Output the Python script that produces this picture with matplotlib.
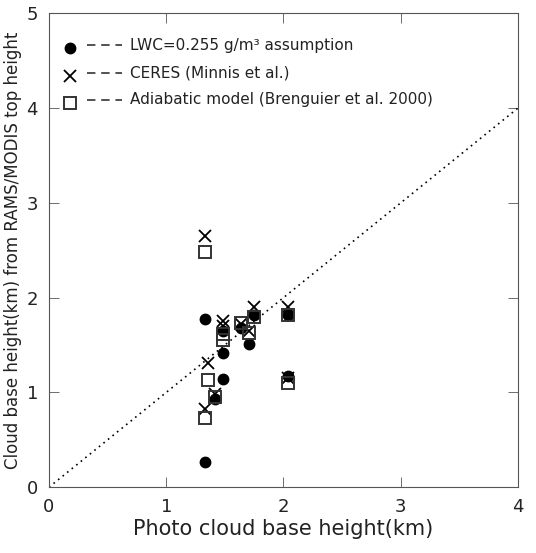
import matplotlib
matplotlib.use("Agg")
import matplotlib.pyplot as plt
import numpy as np

# photo cloud base height (km) vs retrieved base height (km)
lwc_x = [1.33, 1.33, 1.42, 1.48, 1.48, 1.48, 1.64, 1.71, 1.75, 2.04, 2.04]
lwc_y = [1.77, 0.27, 0.93, 1.14, 1.42, 1.65, 1.68, 1.51, 1.82, 1.82, 1.17]

ceres_x = [1.33, 1.33, 1.36, 1.42, 1.48, 1.48, 1.64, 1.71, 1.75, 2.04, 2.04]
ceres_y = [2.65, 0.83, 1.31, 0.98, 1.75, 1.70, 1.72, 1.65, 1.90, 1.90, 1.15]

adia_x = [1.33, 1.33, 1.36, 1.42, 1.48, 1.48, 1.64, 1.71, 1.75, 2.04, 2.04]
adia_y = [2.48, 0.73, 1.13, 0.95, 1.55, 1.62, 1.73, 1.63, 1.80, 1.82, 1.10]

labels = ["LWC=0.255 g/m\u00b3 assumption",
          "CERES (Minnis et al.)",
          "Adiabatic model (Brenguier et al. 2000)"]

plt.rcParams['font.family'] = ['DejaVu Sans']

fig = plt.figure(figsize=(5.36, 5.53), dpi=100)
ax = fig.add_axes([0.0914, 0.119, 0.875, 0.857])

ax.plot([0, 4], [0, 4], linestyle=(0, (1, 2.5)), color='black', lw=1.2)

ax.plot(lwc_x, lwc_y, 'o', color='black', markersize=7.5)
ax.plot(ceres_x, ceres_y, 'x', color='black', markersize=9, mew=1.3)
ax.plot(adia_x, adia_y, 's', mfc='none', mec='#333333', markersize=9, mew=1.4)

# legend drawn by hand like the original
rows = [0.932, 0.874, 0.817]
styles = [dict(marker='o', color='black', markersize=7.5, linestyle='none'),
          dict(marker='x', color='black', markersize=9, mew=1.3, linestyle='none'),
          dict(marker='s', mfc='none', mec='#333333', markersize=9, mew=1.4, linestyle='none')]
for ry, st, lab in zip(rows, styles, labels):
    ax.plot([0.045], [ry - 0.006], transform=ax.transAxes, clip_on=False, **st)
    ax.plot([0.081, 0.156], [ry, ry], transform=ax.transAxes, color='#222222',
            lw=1.1, dashes=(5.5, 3.8))
    ax.text(0.172, ry, lab, transform=ax.transAxes, va='center', ha='left',
            fontsize=11, color='#222222')

ax.set_xlim(0, 4)
ax.set_ylim(0, 5)
ax.set_xticks([0, 1, 2, 3, 4])
ax.set_yticks([0, 1, 2, 3, 4, 5])
ax.tick_params(direction='in', length=7, width=0.6, labelsize=13,
               top=True, right=True, pad=8, colors='#555555', labelcolor='#222222')
for s in ax.spines.values():
    s.set_linewidth(0.8)
    s.set_color('#555555')

ax.set_xlabel("Photo cloud base height(km)", fontsize=15, labelpad=2, color='#222222')
ax.set_ylabel("Cloud base height(km) from RAMS/MODIS top height", fontsize=12,
              labelpad=3, color='#222222')

fig.savefig("out.png", dpi=100)
